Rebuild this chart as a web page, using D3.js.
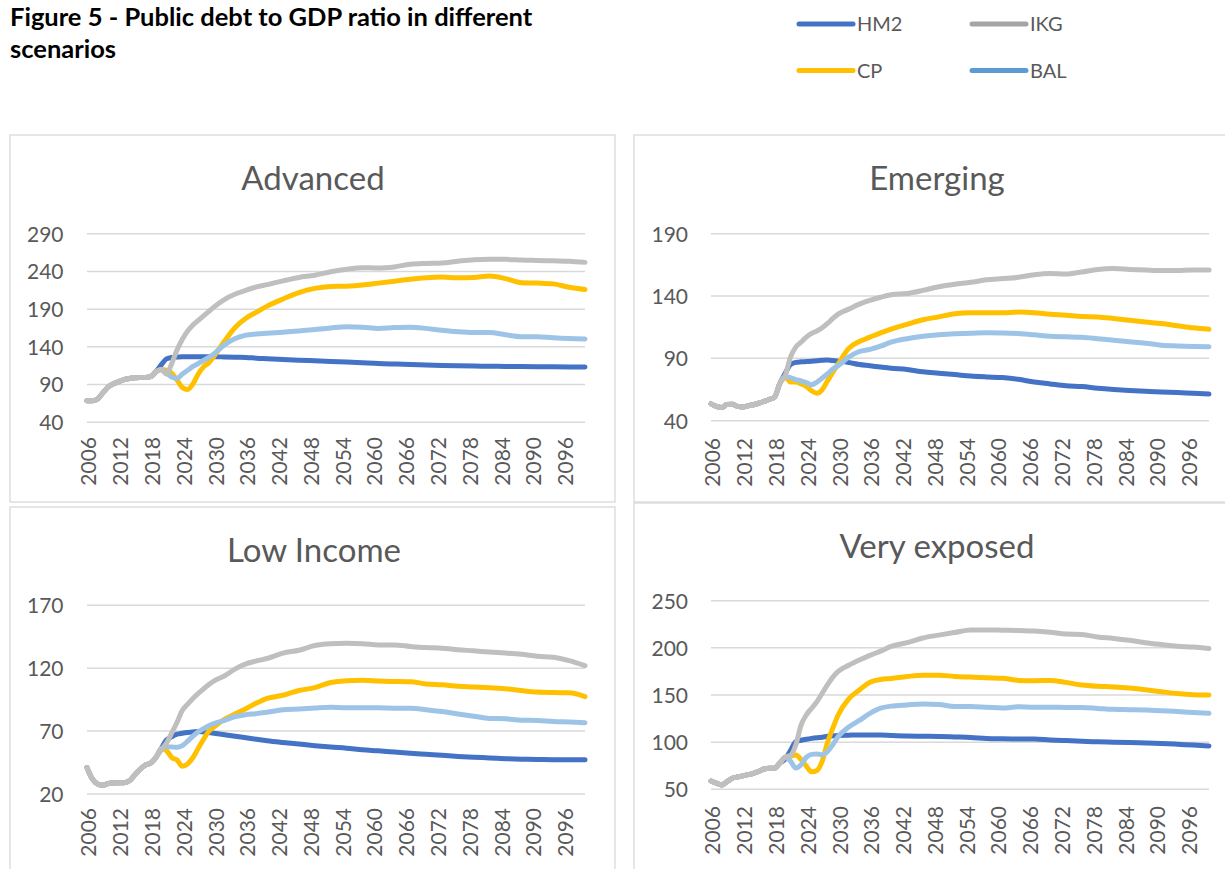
<!DOCTYPE html>
<html><head><meta charset="utf-8">
<script src="https://cdn.jsdelivr.net/npm/d3@7"></script>
<style>
body{margin:0;background:#fff}
svg text{font-family:Lato,"Open Sans","DejaVu Sans",sans-serif}
</style>
</head><body>
<svg id="chart" width="1225" height="869"></svg>
<script>
// ---------------- DATA ----------------
const seriesNames = ["HM2", "CP", "BAL", "IKG"];
const histYears = d3.range(2006, 2020);
const projYears = [2020,2021,2022,2023,2024,2025,2026,2027,2028,2029,2030,2032,2034,2036,2038,2040,
  2043,2046,2049,2052,2055,2058,2061,2064,2067,2070,2073,2076,2079,2082,2085,2088,2091,2094,2097,2100];
const tickYears = d3.range(2006, 2101, 6);

// Advanced
const advTicks = [40, 90, 140, 190, 240, 290];
const advHist = [68.5,68.5,71,79,87,91,94,96.5,98,99,99.5,99.5,100.5,107];
const advIKG = [110,104,118,136,150,161,169,175,181,187,193,203,210,215,219.5,222.5,227.5,232,235,239.5,243,245,244.5,246,249.5,250.5,251,253.5,255.5,256,256,255,254.5,254,253.5,252];
const advHM2 = [116,124,126,126.5,127,127,127,127,127,127,127,126.5,126.2,126,125,124.3,123.2,122.3,121.5,120.7,119.8,118.8,117.8,117.2,116.7,116,115.4,114.9,114.5,114.3,114.1,113.9,113.7,113.5,113.4,113.3];
const advCP  = [110,109,105,96,86,83.5,91,104,113.5,119,128,148,166,178,186,194,203.5,212,217.5,220,220.5,222,224.5,227,229.5,231.5,232.5,231.5,232,234,230.5,225,224.5,223.5,219,216];
const advBAL = [110,105,100,98,104,109,114,118,122,126,131,143,151,155.5,157,158,159.5,161,163,165,166.5,166,164.5,165.5,166,164.5,162,160,159,159,156,153.5,153.5,152,151,150.5];

// Emerging
const emTicks = [40, 90, 140, 190];
const emHist = [53.5,51.5,50.5,53,53.2,51.5,51,52,52.8,54,55.5,57,59,70];
const emIKG = [76,91,99,103,107,110,112,114.5,118,122,125.5,129.5,133.5,136.5,139,141,142,144.5,147.5,149.5,151,153,154,155,157,158,157.6,159.3,161.3,162,161.3,160.8,160.4,160.5,160.9,160.9];
const emHM2 = [78,85,86.8,87.2,87.4,87.6,88,88.5,88.6,88.3,87.8,86.7,85.1,84.1,83,82,81.1,79.2,78.1,77,75.8,75.1,74.6,73.2,71,69.5,68,67.4,66.1,65.1,64.3,63.6,63,62.6,62,61.4];
const emCP  = [75,71,71,69.5,67.5,64,62,65,72,79,85.5,98,103.5,107,110.5,113.5,117.3,121,123.3,125.8,126.6,126.6,126.6,127.1,126.6,125.4,124.6,123.5,123.2,122,120.5,119.1,117.9,116.2,114.5,113.3];
const emBAL = [75.5,74.5,73,72,70.5,68.8,71,74.2,77.7,81.5,84.2,91,95.5,97.2,99.8,103,105.8,107.7,109,109.8,110.1,110.5,110.4,109.9,108.9,107.7,107.3,106.9,105.8,104.6,103.4,102.2,100.6,100,99.6,99.4];

// Low Income
const lowTicks = [20, 70, 120, 170];
const lowHist = [41,32,28,27,28.3,28.8,29,29,30.5,35,39.5,43,44.5,49];
const lowIKG = [55,60.5,68.5,77,86.5,91.5,96,100,103.5,107,110,114,119.5,123.5,125.8,127.7,132,134.3,138,139.4,139.8,139.5,138.4,138.4,137.3,136.4,135.9,134.7,133.8,132.8,132,131,129.5,128.7,126,122];
const lowHM2 = [56,62.9,65.5,67.5,68.3,68.9,69.3,69.6,69.3,68.9,68.3,67.1,65.9,64.7,63.5,62.4,61,59.7,58.4,57.3,56.4,55.2,54.3,53.3,52.4,51.6,50.8,49.9,49.2,48.7,48.1,47.7,47.5,47.3,47.3,47.3];
const lowCP  = [56,54.5,49,47,42,44,49,56.3,63.5,70,73.5,79.5,83.7,87.8,92.3,96,98.5,102.3,104.5,108.6,110.1,110.4,109.9,109.4,109.3,107.5,106.8,105.7,105.1,104.5,103.6,102.2,101,100.6,100.4,97.4];
const lowBAL = [56,57.6,57.4,57.1,58.5,62,66,69.5,72,74.3,76,78.6,81.6,83.1,83.9,85,86.9,87.5,88.3,88.9,88.6,88.6,88.5,88.2,88.1,87,85.5,83.6,81.8,80.1,79.8,78.7,78.5,77.7,77.2,76.7];

// Very exposed
const veTicks = [50, 100, 150, 200, 250];
const veHist = [58.8,56.5,54.6,58,61.7,63,64.3,65.5,67,69,71.5,72.3,72.3,78];
const veIKG = [84,86,97,118,129,136,143,152,161,169,175,181.5,187,192,196.5,201.5,205.5,210.5,213.5,216.3,219,219,218.7,218.4,217.8,216.5,214.6,214.2,211.5,210,208,205.5,203.5,201.7,200.8,199.2];
const veHM2 = [82,91,100.5,102,103.1,104,104.7,105.3,106.2,106.7,107.1,107.4,107.6,107.6,107.5,107,106.4,106.2,106,105.5,105,104,103.6,103.4,103.4,102.4,101.7,101,100.3,100,99.6,99.1,98.6,97.8,96.9,96];
const veCP  = [84,85,86.4,81.5,74.5,68.5,70,80,100,115,128.8,146,155.3,163.5,166.5,167.5,169.6,171,171,169.7,169,168.3,167.8,165.5,165.2,165.5,163.4,160.5,159.2,158.6,157.4,155.5,153.5,151.5,150.3,150];
const veBAL = [84,80,72.5,76,84,87,87.5,86.5,90,97.5,106,116,123,130.5,136,138.2,139.5,140.5,140,137.8,137.7,137,136.2,137.5,137,137,136.8,136.8,135.8,134.8,134.4,134,133.4,132.5,131.5,130.6];

const panelTitles = ["Advanced", "Emerging", "Low Income", "Very exposed"];

// ---------------- STYLE / LAYOUT ----------------
const lineColors = {HM2:"#4472C4", CP:"#FFC000", BAL:"#9DC3E6", IKG:"#BFBFBF"};
const legendColors = {HM2:"#4472C4", CP:"#FFC000", BAL:"#5B9BD5", IKG:"#A5A5A5"};
const textColor = "#595959";
const gridColor = "#D9D9D9";

const panels = [
  {title:panelTitles[0], ticks:advTicks, hist:advHist, data:{HM2:advHM2,CP:advCP,BAL:advBAL,IKG:advIKG},
   box:[10,135,605,367], tx:313, ty:190, x0:87, x1:585, yTop:233.7, yBot:422.3, lblR:63.5, xLblTop:437},
  {title:panelTitles[1], ticks:emTicks, hist:emHist, data:{HM2:emHM2,CP:emCP,BAL:emBAL,IKG:emIKG},
   box:[634,135,605,367], tx:937, ty:190, x0:711, x1:1209, yTop:233.7, yBot:420.7, lblR:688, xLblTop:438},
  {title:panelTitles[2], ticks:lowTicks, hist:lowHist, data:{HM2:lowHM2,CP:lowCP,BAL:lowBAL,IKG:lowIKG},
   box:[10,507,605,372], tx:314, ty:562, x0:87, x1:585, yTop:605.3, yBot:794, lblR:63.5, xLblTop:808},
  {title:panelTitles[3], ticks:veTicks, hist:veHist, data:{HM2:veHM2,CP:veCP,BAL:veBAL,IKG:veIKG},
   box:[634,503,605,376], tx:937, ty:558, x0:711, x1:1209, yTop:600.7, yBot:789.3, lblR:688, xLblTop:806}
];

const svg = d3.select("#chart");

// Figure title
svg.append("text").attr("x", 10).attr("y", 26).attr("font-weight", 700).attr("font-size", 25.5)
  .attr("fill", "#000").text("Figure 5 - Public debt to GDP ratio in different");
svg.append("text").attr("x", 10).attr("y", 58).attr("font-weight", 700).attr("font-size", 25.5)
  .attr("fill", "#000").text("scenarios");

// Legend
const legendItems = [
  {name:"HM2", x:799, y:24}, {name:"IKG", x:972, y:24},
  {name:"CP", x:799, y:70.5}, {name:"BAL", x:972, y:70.5}
];
const lg = svg.append("g");
legendItems.forEach(d => {
  lg.append("line").attr("x1", d.x).attr("x2", d.x + 54).attr("y1", d.y).attr("y2", d.y)
    .attr("stroke", legendColors[d.name]).attr("stroke-width", 5).attr("stroke-linecap", "round");
  lg.append("text").attr("x", d.x + 58).attr("y", d.y).attr("dy", "0.35em")
    .attr("font-size", 20).attr("fill", textColor).text(d.name);
});

// Panels
panels.forEach(p => {
  const g = svg.append("g");
  g.append("rect").attr("x", p.box[0]).attr("y", p.box[1]).attr("width", p.box[2]).attr("height", p.box[3])
    .attr("fill", "#fff").attr("stroke", gridColor).attr("stroke-width", 1.3);

  g.append("text").attr("x", p.tx).attr("y", p.ty).attr("text-anchor", "middle")
    .attr("font-size", 33).attr("fill", textColor).text(p.title);

  const x = d3.scaleLinear().domain([2006, 2100]).range([p.x0, p.x1]);
  const y = d3.scaleLinear().domain(d3.extent(p.ticks)).range([p.yBot, p.yTop]);

  // gridlines
  g.append("g").selectAll("line").data(p.ticks).join("line")
    .attr("x1", p.x0).attr("x2", p.x1).attr("y1", d => y(d)).attr("y2", d => y(d))
    .attr("stroke", gridColor).attr("stroke-width", 1.5);

  // y axis labels
  const yAxis = d3.axisLeft(y).tickValues(p.ticks).tickSize(0).tickPadding(0);
  const ya = g.append("g").attr("transform", `translate(${p.lblR},0)`).call(yAxis);
  ya.select(".domain").remove();
  ya.selectAll("text").attr("font-size", 21).attr("fill", textColor)
    .attr("font-family", "Lato, 'Open Sans', sans-serif").attr("dy", "0.35em");

  // x axis labels (rotated)
  g.append("g").selectAll("text").data(tickYears).join("text")
    .attr("transform", d => `translate(${x(d) + 2},${p.xLblTop}) rotate(-90)`)
    .attr("text-anchor", "end").attr("dy", "0.35em")
    .attr("font-size", 21).attr("fill", textColor).text(d => d);

  // lines
  const line = d3.line().x(d => x(d[0])).y(d => y(d[1])).curve(d3.curveMonotoneX);
  seriesNames.forEach(s => {
    const pts = histYears.map((yr, i) => [yr, p.hist[i]])
      .concat(projYears.map((yr, i) => [yr, p.data[s][i]]));
    g.append("path").datum(pts).attr("d", line).attr("fill", "none")
      .attr("stroke", lineColors[s]).attr("stroke-width", 5)
      .attr("stroke-linejoin", "round").attr("stroke-linecap", "round");
  });
});
</script>
</body></html>
